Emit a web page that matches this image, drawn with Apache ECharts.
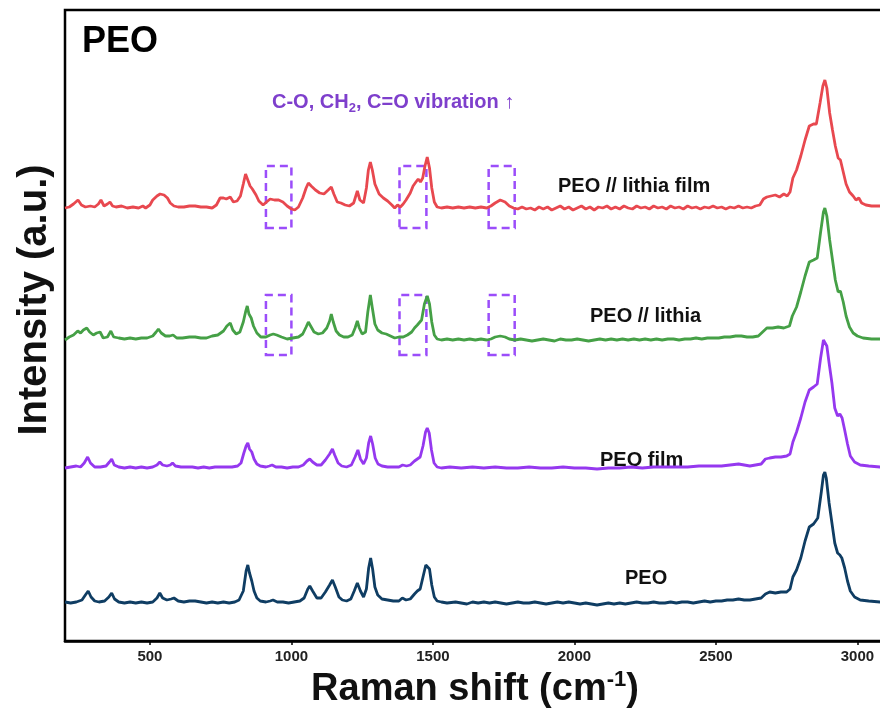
<!DOCTYPE html>
<html><head><meta charset="utf-8">
<script src="https://cdn.jsdelivr.net/npm/echarts@6/dist/echarts.min.js"></script>
<style>html,body{margin:0;padding:0;background:#fff}#c{width:880px;height:717px}</style>
</head><body><div id="c"></div>
<script>
// Raman spectra (Raman shift in cm-1, relative intensity a.u.)
const seriesNames = ['PEO', 'PEO film', 'PEO // lithia', 'PEO // lithia film'];
const offsets = [38, 173, 301, 433];
const xTicks = [500, 1000, 1500, 2000, 2500, 3000];
const boxRanges = [[910, 1000], [1382, 1477], [1697, 1789]];

const peo = [[200,1],[220,0],[240,1],[260,3],[272,8],[282,12],[292,6],[305,2],[320,1],[340,2],[355,6],[365,10],[375,4],[390,1],[410,0],[430,1],[450,0],[470,1],[490,0],[510,1],[525,5],[535,10],[545,5],[560,3],[575,4],[585,5],[600,2],[620,1],[640,2],[660,2],[680,1],[700,0],[720,1],[740,0],[760,1],[780,0],[800,1],[815,3],[830,12],[840,32],[846,38],[852,30],[860,22],[868,12],[878,5],[890,2],[910,1],[925,2],[935,3],[950,1],[970,1],[990,0],[1010,1],[1030,2],[1045,5],[1058,14],[1065,17],[1075,12],[1090,5],[1105,5],[1120,11],[1135,18],[1145,23],[1155,16],[1168,6],[1180,3],[1195,2],[1210,4],[1222,12],[1233,20],[1244,12],[1255,6],[1265,14],[1273,35],[1280,45],[1287,34],[1295,16],[1305,8],[1320,4],[1340,3],[1360,2],[1380,2],[1392,5],[1398,6],[1405,3],[1420,4],[1435,9],[1445,12],[1455,14],[1465,26],[1475,38],[1480,40],[1488,34],[1496,18],[1505,6],[1515,2],[1530,1],[1550,0],[1580,1],[1600,0],[1620,-1],[1640,1],[1660,0],[1680,1],[1700,0],[1720,1],[1740,0],[1760,-1],[1780,0],[1800,1],[1820,0],[1840,0],[1860,1],[1880,0],[1900,-1],[1920,0],[1940,1],[1960,0],[1980,1],[2000,0],[2020,-1],[2040,0],[2060,-1],[2080,-2],[2100,-1],[2120,0],[2140,-1],[2160,0],[2180,-1],[2200,0],[2220,1],[2240,0],[2260,0],[2280,1],[2300,0],[2320,0],[2340,1],[2360,0],[2380,1],[2400,1],[2420,0],[2440,1],[2460,2],[2480,1],[2500,2],[2520,2],[2540,3],[2560,3],[2580,4],[2600,3],[2620,3],[2640,4],[2660,5],[2675,9],[2690,11],[2710,10],[2730,11],[2750,11],[2762,14],[2772,26],[2785,33],[2800,45],[2815,62],[2830,76],[2845,79],[2860,85],[2872,110],[2880,128],[2885,131],[2890,125],[2900,100],[2910,80],[2920,60],[2930,50],[2938,48],[2945,45],[2955,35],[2965,22],[2975,12],[2990,6],[3010,3],[3040,2],[3080,1],[3120,1],[3160,0],[3200,1]];

const peoFilm = [[200,0],[220,1],[240,2],[255,1],[268,5],[280,11],[290,5],[305,1],[325,1],[345,2],[357,6],[365,9],[374,3],[390,1],[410,0],[430,1],[450,0],[470,1],[490,0],[510,1],[525,3],[535,6],[545,3],[560,2],[572,3],[580,5],[590,2],[610,1],[630,1],[650,1],[670,0],[690,1],[710,0],[730,1],[750,1],[770,1],[790,1],[810,2],[822,5],[832,15],[840,22],[846,25],[852,19],[860,16],[868,9],[878,4],[890,2],[910,1],[922,2],[932,3],[945,1],[965,1],[985,0],[1005,1],[1025,1],[1042,3],[1055,7],[1065,9],[1075,6],[1090,3],[1105,3],[1120,8],[1135,14],[1145,19],[1153,13],[1165,5],[1178,2],[1195,1],[1212,3],[1225,11],[1235,18],[1244,9],[1255,4],[1265,10],[1273,25],[1280,32],[1287,24],[1296,10],[1306,4],[1320,2],[1340,1],[1360,1],[1380,1],[1393,3],[1400,4],[1407,2],[1420,3],[1435,7],[1445,9],[1455,11],[1465,22],[1474,36],[1480,40],[1487,35],[1495,18],[1504,5],[1515,1],[1530,0],[1560,1],[1600,0],[1640,1],[1680,0],[1720,1],[1760,0],[1800,0],[1840,1],[1880,0],[1920,0],[1960,1],[2000,0],[2040,0],[2080,-1],[2120,0],[2160,0],[2200,1],[2240,0],[2280,1],[2320,1],[2360,1],[2400,1],[2440,2],[2480,2],[2520,2],[2550,3],[2580,4],[2600,3],[2620,2],[2640,3],[2660,4],[2675,9],[2690,10],[2710,11],[2730,11],[2750,12],[2762,14],[2772,26],[2785,36],[2800,50],[2815,66],[2830,78],[2845,81],[2858,84],[2870,110],[2880,128],[2885,130],[2892,122],[2900,105],[2910,85],[2920,60],[2930,52],[2938,54],[2946,50],[2955,38],[2965,24],[2975,12],[2990,6],[3010,3],[3040,2],[3080,1],[3120,1],[3200,0]];

const peoLithia = [[200,0],[215,3],[230,5],[245,9],[255,7],[265,10],[277,12],[287,8],[300,5],[312,7],[324,8],[335,2],[350,3],[362,9],[372,3],[390,2],[410,1],[430,2],[450,1],[470,2],[490,2],[510,4],[522,8],[530,11],[540,7],[555,4],[570,4],[582,5],[595,2],[615,2],[640,3],[660,3],[680,2],[700,2],[720,4],[740,5],[760,9],[772,14],[784,17],[793,10],[805,6],[818,8],[830,18],[838,28],[844,34],[850,26],[858,22],[866,14],[878,7],[892,3],[910,3],[925,5],[936,6],[948,5],[965,3],[985,1],[1005,2],[1025,3],[1040,6],[1052,13],[1060,18],[1068,14],[1080,8],[1095,6],[1110,7],[1125,12],[1135,19],[1141,26],[1148,18],[1158,9],[1170,5],[1185,3],[1200,3],[1215,5],[1225,12],[1233,19],[1240,12],[1250,6],[1262,8],[1270,28],[1279,45],[1286,32],[1295,16],[1305,10],[1320,7],[1335,6],[1350,4],[1365,2],[1380,3],[1395,3],[1410,5],[1425,8],[1435,12],[1445,15],[1452,13],[1460,20],[1470,36],[1480,44],[1488,36],[1496,18],[1505,5],[1515,1],[1530,0],[1550,1],[1570,0],[1590,1],[1610,0],[1630,1],[1650,0],[1670,1],[1690,0],[1705,1],[1720,3],[1738,4],[1755,3],[1770,1],[1790,0],[1810,1],[1830,0],[1850,-1],[1870,0],[1890,1],[1910,0],[1930,-1],[1950,1],[1970,0],[1990,0],[2010,1],[2030,0],[2050,-1],[2070,0],[2090,1],[2110,0],[2130,1],[2150,0],[2170,1],[2190,0],[2210,1],[2230,0],[2250,1],[2270,0],[2290,1],[2310,0],[2330,1],[2350,1],[2370,0],[2390,1],[2410,1],[2430,2],[2450,1],[2470,2],[2490,2],[2510,2],[2530,3],[2550,3],[2570,4],[2590,4],[2610,3],[2630,3],[2650,4],[2665,8],[2680,12],[2700,12],[2720,13],[2740,12],[2760,14],[2770,24],[2785,33],[2800,48],[2815,64],[2830,78],[2845,80],[2858,82],[2870,108],[2880,128],[2885,132],[2892,124],[2902,100],[2912,80],[2922,60],[2932,48],[2940,49],[2950,38],[2960,24],[2972,13],[2985,7],[3000,4],[3020,2],[3050,1],[3080,1],[3120,0],[3160,1],[3200,0]];

const peoLithiaFilm = [[200,0],[215,1],[230,4],[246,8],[258,3],[272,1],[290,2],[305,1],[318,4],[327,8],[338,2],[350,4],[359,6],[368,2],[380,1],[400,2],[420,0],[440,1],[460,0],[475,2],[485,0],[500,3],[510,8],[525,12],[536,14],[550,13],[562,10],[572,5],[585,2],[600,1],[620,1],[640,2],[660,2],[680,1],[700,1],[720,0],[735,3],[748,10],[760,10],[770,9],[784,11],[795,6],[808,7],[820,12],[830,24],[838,34],[846,28],[854,22],[862,19],[875,13],[885,7],[900,3],[912,6],[925,9],[940,8],[955,8],[970,6],[985,2],[1000,-1],[1012,-2],[1025,1],[1040,10],[1052,20],[1060,25],[1070,22],[1085,18],[1100,15],[1115,14],[1130,18],[1141,21],[1150,14],[1162,6],[1175,5],[1190,3],[1205,2],[1220,5],[1233,17],[1242,8],[1255,5],[1265,20],[1272,38],[1279,46],[1286,38],[1295,24],[1310,14],[1325,10],[1340,7],[1355,3],[1365,0],[1375,3],[1385,1],[1395,4],[1405,8],[1420,15],[1430,22],[1440,26],[1448,29],[1456,26],[1464,30],[1472,42],[1480,51],[1488,40],[1496,20],[1505,6],[1515,1],[1530,0],[1550,1],[1570,0],[1590,1],[1610,0],[1630,1],[1650,0],[1670,1],[1690,0],[1705,2],[1720,5],[1738,8],[1755,6],[1770,2],[1785,0],[1800,-1],[1815,1],[1830,-1],[1845,0],[1860,-2],[1875,1],[1890,-1],[1905,1],[1920,-2],[1935,0],[1950,2],[1965,-1],[1980,1],[1995,-2],[2010,0],[2025,2],[2040,-1],[2055,1],[2070,-2],[2085,1],[2100,0],[2115,2],[2130,-1],[2145,1],[2160,-1],[2175,2],[2190,0],[2205,-1],[2220,2],[2235,0],[2250,1],[2265,-1],[2280,2],[2295,0],[2310,1],[2325,-1],[2340,2],[2355,0],[2370,1],[2385,-1],[2400,2],[2415,0],[2430,1],[2445,-1],[2460,1],[2475,0],[2490,2],[2505,0],[2520,1],[2535,-1],[2550,1],[2565,0],[2580,2],[2595,0],[2610,1],[2625,0],[2640,2],[2655,3],[2668,9],[2680,11],[2695,12],[2710,13],[2725,11],[2740,14],[2752,12],[2762,16],[2772,30],[2785,38],[2800,52],[2815,68],[2830,82],[2845,84],[2855,84],[2868,105],[2878,122],[2885,128],[2892,120],[2902,95],[2912,78],[2922,62],[2932,50],[2940,48],[2950,36],[2960,24],[2972,16],[2985,12],[2995,8],[3005,10],[3015,5],[3030,3],[3050,2],[3080,2],[3120,1],[3160,2],[3200,1]];

const spectra = [peo, peoFilm, peoLithia, peoLithiaFilm];
const colors = ['#0f3d63', '#9538ef', '#45a046', '#e8484f'];
const boxY = [null, null, [-15, 45], [-20, 42]];

const chart = echarts.init(document.getElementById('c'));
const font = '"Liberation Sans", Arial, sans-serif';
const series = spectra.map((d, i) => {
  const s = {
    name: seriesNames[i], type: 'line', showSymbol: false, silent: true,
    data: d.map(p => [p[0], p[1] + offsets[i]]),
    lineStyle: { color: colors[i], width: 2.8 }, itemStyle: { color: colors[i] },
    z: 2 + i
  };
  if (boxY[i]) {
    s.markArea = {
      silent: true,
      itemStyle: { color: 'rgba(0,0,0,0)', borderColor: '#9b4dfa', borderWidth: 2.5, borderType: [8, 5] },
      data: boxRanges.map(r => [{ xAxis: r[0], yAxis: offsets[i] + boxY[i][0] }, { xAxis: r[1], yAxis: offsets[i] + boxY[i][1] }])
    };
  }
  return s;
});

chart.setOption({
  animation: false,
  grid: { left: 65, top: 10, width: 849, bottom: 76, outerBoundsMode: 'none', containLabel: false,
    show: true, borderColor: '#000', borderWidth: 2.5, backgroundColor: 'transparent' },
  xAxis: {
    type: 'value', min: 200, max: 3200,
    axisLine: { show: true, lineStyle: { color: '#000', width: 2.5 } },
    axisTick: { show: true, length: 4, customValues: xTicks, lineStyle: { color: '#000', width: 1.5 } },
    splitLine: { show: false },
    axisLabel: { color: '#222', fontFamily: font, fontWeight: 'bold', fontSize: 15, margin: 8, customValues: xTicks,
      formatter: v => String(v) }
  },
  yAxis: {
    type: 'value', min: 0, max: 631, show: false,
    axisLine: { show: false }, splitLine: { show: false }
  },
  series: series,
  graphic: [
    { type: 'text', x: 82, y: 42, style: { text: 'PEO', font: 'bold 36px ' + font, fill: '#000', verticalAlign: 'middle' } },
    { type: 'text', x: 272, y: 102, style: {
      text: '{a|C-O, CH}{s|2}{a|, C=O vibration ↑}', verticalAlign: 'middle',
      rich: { a: { fontFamily: font, fontWeight: 'bold', fontSize: 20, fill: '#7e3fcc' },
              s: { fontFamily: font, fontWeight: 'bold', fontSize: 13, fill: '#7e3fcc', padding: [12, 0, 0, 0] } } } },
    { type: 'text', x: 558, y: 186, style: { text: 'PEO // lithia film', font: 'bold 20px ' + font, fill: '#111', verticalAlign: 'middle' } },
    { type: 'text', x: 590, y: 316, style: { text: 'PEO // lithia', font: 'bold 20px ' + font, fill: '#111', verticalAlign: 'middle' } },
    { type: 'text', x: 600, y: 460, style: { text: 'PEO film', font: 'bold 20px ' + font, fill: '#111', verticalAlign: 'middle' } },
    { type: 'text', x: 625, y: 578, style: { text: 'PEO', font: 'bold 20px ' + font, fill: '#111', verticalAlign: 'middle' } },
    { type: 'text', x: 475, y: 690, style: {
      text: '{a|Raman shift (cm}{s|-1}{a|)}', align: 'center', verticalAlign: 'middle',
      rich: { a: { fontFamily: font, fontWeight: 'bold', fontSize: 38, fill: '#111' },
              s: { fontFamily: font, fontWeight: 'bold', fontSize: 22, fill: '#111', padding: [0, 0, 20, 0] } } } },
    { type: 'text', x: 35, y: 300, rotation: Math.PI / 2, style: {
      text: 'Intensity (a.u.)', font: 'bold 40px ' + font, fill: '#111',
      align: 'center', verticalAlign: 'middle' } }
  ]
});
</script></body></html>
